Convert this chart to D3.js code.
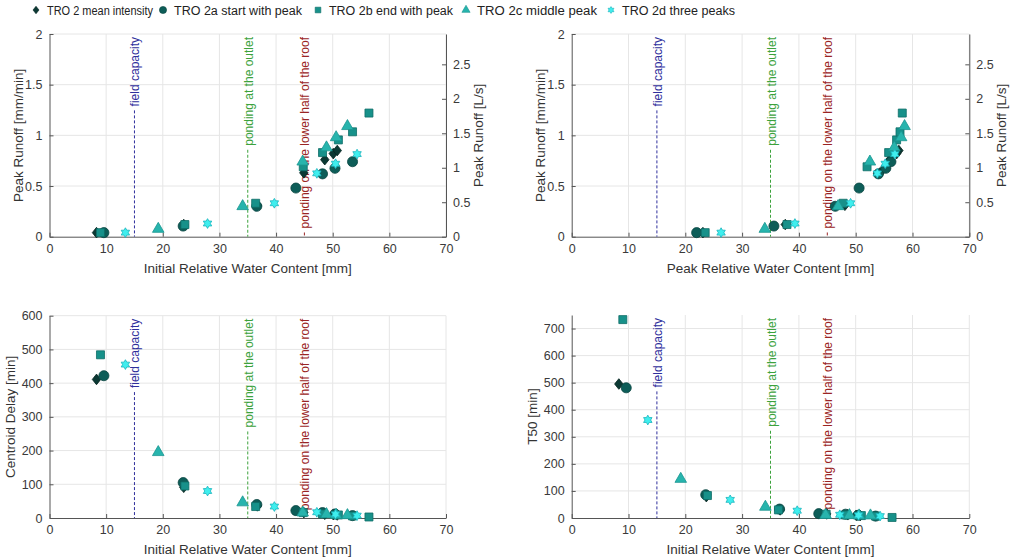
<!DOCTYPE html>
<html>
<head>
<meta charset="utf-8">
<script src="https://cdn.jsdelivr.net/npm/d3@7"></script>
<style>
  body { margin: 0; background: #fff; }
  text { font-family: "Liberation Sans", Arial, sans-serif; }
</style>
</head>
<body>
<svg id="chart" width="1013" height="558"></svg>
<script>
// series names
const seriesNames = ["TRO 2 mean intensity", "TRO 2a start with peak", "TRO 2b end with peak",
  "TRO 2c middle peak", "TRO 2d three peaks"];

// TRO 2 mean intensity
const meanInit = [8.3, 23.7, 36.7, 44.9, 48.6, 50.1, 50.8];
const meanPeakWC = [23.1, 37.6, 48.1, 54.3, 56.0, 57.2, 57.6];
const meanRunoff = [0.04, 0.12, 0.31, 0.63, 0.76, 0.82, 0.85];
const meanCentroid = [411, 91, 36, 16, 11, 10, 9];
const meanT50 = [495, 79, 30, 15, 12, 10, 9];

// TRO 2a start with peak
const startInit = [9.6, 23.6, 36.6, 43.5, 48.2, 50.4, 53.5];
const startPeakWC = [22.0, 35.6, 46.4, 50.6, 54.0, 55.3, 56.2];
const startRunoff = [0.04, 0.105, 0.30, 0.48, 0.62, 0.675, 0.74];
const startCentroid = [422, 105, 40, 22, 16, 12, 7];
const startT50 = [481, 86, 33, 16, 14, 10, 7];

// TRO 2b end with peak
const endInit = [9.0, 23.9, 36.4, 44.8, 48.2, 51.0, 53.5, 56.4];
const endPeakWC = [23.5, 37.9, 47.8, 52.0, 55.8, 57.2, 57.8, 58.2];
const endRunoff = [0.04, 0.12, 0.33, 0.69, 0.83, 0.955, 1.035, 1.22];
const endCentroid = [484, 95, 34, 16, 12, 9, 6, 3];
const endT50 = [733, 83, 30, 14, 11, 9, 7, 2];

// TRO 2c middle peak
const midInit = [19.2, 34.1, 44.7, 48.9, 50.6, 52.6];
const midPeakWC = [34.0, 46.9, 52.5, 56.8, 58.0, 58.6];
const midRunoff = [0.076, 0.30, 0.74, 0.88, 0.98, 1.09];
const midCentroid = [195, 46, 16, 11, 9, 8];
const midT50 = [144, 41, 11, 10, 9, 9];

// TRO 2d three peaks
const threeInit = [13.4, 27.9, 39.7, 47.2, 50.5, 54.3];
const threePeakWC = [26.3, 39.3, 49.1, 53.8, 55.2, 56.9];
const threeRunoff = [0.04, 0.13, 0.33, 0.625, 0.72, 0.815];
const threeCentroid = [455, 80, 34, 17, 11, 7];
const threeT50 = [362, 67, 27, 12, 10, 7];

// reference lines
const refValues = [15, 35, 45];
const refLabels = ["field capacity", "ponding at the outlet", "ponding on the lower half of the roof"];
const refColors = ["#2f2f9c", "#3ca23c", "#9a2424"];

const xTicks = [0, 10, 20, 30, 40, 50, 60, 70];
const runoffTicks = [0, 0.5, 1, 1.5, 2];
const litreTicks = [0, 0.5, 1, 1.5, 2, 2.5];
const centroidTicks = [0, 100, 200, 300, 400, 500, 600];
const t50Ticks = [0, 100, 200, 300, 400, 500, 600, 700];
const mmToLitres = 1.47;

const fills = ["#0b3934", "#0d5d58", "#17918a", "#27b4ad", "#3feeee"];
const strokes = ["#052420", "#084440", "#0f6d67", "#1a9690", "#19b4bc"];

// 6-point star, not in d3
const symbolHexagram = {
  draw(ctx, size) {
    const r = Math.sqrt(size / 1.6);
    const ri = r / Math.sqrt(3);
    for (let i = 0; i < 12; i++) {
      const a = Math.PI / 6 * i - Math.PI / 2;
      const rr = i % 2 === 0 ? r : ri;
      if (i === 0) ctx.moveTo(rr * Math.cos(a), rr * Math.sin(a));
      else ctx.lineTo(rr * Math.cos(a), rr * Math.sin(a));
    }
    ctx.closePath();
  }
};
const symbolRhombus = {
  draw(ctx, size) {
    const h = Math.sqrt(size / 0.8);
    const w = h * 0.8;
    ctx.moveTo(0, -h / 2);
    ctx.lineTo(w / 2, 0);
    ctx.lineTo(0, h / 2);
    ctx.lineTo(-w / 2, 0);
    ctx.closePath();
  }
};
const shapes = [symbolRhombus, d3.symbolCircle, d3.symbolSquare, d3.symbolTriangle, symbolHexagram];
const sizes = [90, 80, 64, 58, 38];

const series = [
  {init: meanInit, peak: meanPeakWC, runoff: meanRunoff, cd: meanCentroid, t50: meanT50},
  {init: startInit, peak: startPeakWC, runoff: startRunoff, cd: startCentroid, t50: startT50},
  {init: endInit, peak: endPeakWC, runoff: endRunoff, cd: endCentroid, t50: endT50},
  {init: midInit, peak: midPeakWC, runoff: midRunoff, cd: midCentroid, t50: midT50},
  {init: threeInit, peak: threePeakWC, runoff: threeRunoff, cd: threeCentroid, t50: threeT50},
];

const svg = d3.select('#chart');

function drawPanel(p) {
  let x = d3.scaleLinear().domain([0, 70]).range([p.left, p.right]);
  let y = d3.scaleLinear().domain([0, p.yMax]).range([p.bottom, p.top]);
  let g = svg.append('g');

  // grid
  g.selectAll('.gx').data(xTicks.slice(1)).enter().append('line')
    .attr('x1', d => x(d)).attr('x2', d => x(d))
    .attr('y1', p.top).attr('y2', p.bottom)
    .attr('stroke', '#e6e6e6');
  g.selectAll('.gy').data(p.yTicks.slice(1)).enter().append('line')
    .attr('x1', p.left).attr('x2', p.right)
    .attr('y1', d => y(d)).attr('y2', d => y(d))
    .attr('stroke', '#e6e6e6');

  // axes
  let xAxis = g.append('g').attr('transform', `translate(0,${p.bottom})`)
    .call(d3.axisBottom(x).tickValues(xTicks).tickSizeInner(-4).tickSizeOuter(0).tickPadding(7));
  let yAxis = g.append('g').attr('transform', `translate(${p.left},0)`)
    .call(d3.axisLeft(y).tickValues(p.yTicks).tickSizeInner(-4).tickSizeOuter(0).tickPadding(7)
      .tickFormat(d3.format('~g')));
  let axes = [xAxis, yAxis];
  if (p.right2) {
    let y2 = d3.scaleLinear().domain([0, p.yMax * mmToLitres]).range([p.bottom, p.top]);
    axes.push(g.append('g').attr('transform', `translate(${p.right},0)`)
      .call(d3.axisRight(y2).tickValues(litreTicks).tickSizeInner(-4).tickSizeOuter(0).tickPadding(7)
        .tickFormat(d3.format('~g'))));
    g.append('text')
      .attr('transform', `translate(${p.right + 37},${(p.top + p.bottom) / 2}) rotate(-90)`)
      .attr('text-anchor', 'middle')
      .attr('font-size', 13.5)
      .attr('fill', '#333')
      .text(p.right2);
  }
  for (let a of axes) {
    a.selectAll('path, line').attr('stroke', '#555');
    a.selectAll('text').attr('font-size', 12.5).attr('fill', '#3a3a3a')
      .attr('font-family', '"Liberation Sans", Arial, sans-serif');
  }

  // axis labels
  g.append('text')
    .attr('x', (p.left + p.right) / 2)
    .attr('y', p.bottom + 36)
    .attr('text-anchor', 'middle')
    .attr('font-size', 13.5)
    .attr('fill', '#333')
    .text(p.xLabel);
  g.append('text')
    .attr('transform', `translate(${p.left - p.yLabelGap},${(p.top + p.bottom) / 2}) rotate(-90)`)
    .attr('text-anchor', 'middle')
    .attr('font-size', 13.5)
    .attr('fill', '#333')
    .text(p.yLabel);

  // reference lines with labels on top
  refValues.forEach((v, i) => {
    let t = g.append('text')
      .attr('transform', `translate(${x(v) + 5},${p.top + 3}) rotate(-90)`)
      .attr('text-anchor', 'end')
      .attr('font-size', 12)
      .attr('fill', refColors[i])
      .text(refLabels[i]);
    let len = t.node().getComputedTextLength();
    let yStart = p.top + 3 + len + 4;
    if (yStart < p.bottom) {
      g.append('line')
        .attr('x1', x(v)).attr('x2', x(v))
        .attr('y1', yStart).attr('y2', p.bottom)
        .attr('stroke', refColors[i])
        .attr('stroke-width', 1)
        .attr('stroke-dasharray', '3,2');
    }
  });

  // points
  series.forEach((s, i) => {
    let xs = s[p.xKey];
    let ys = s[p.yKey];
    g.selectAll(null).data(xs.map((d, j) => [d, ys[j]])).enter().append('path')
      .attr('d', d3.symbol().type(shapes[i]).size(sizes[i]))
      .attr('transform', d => `translate(${x(d[0])},${y(d[1])})`)
      .attr('fill', fills[i])
      .attr('stroke', strokes[i])
      .attr('stroke-width', 0.8);
  });
}

const panels = [
  {left: 49.5, right: 446, top: 34, bottom: 236.7, yMax: 2, yTicks: runoffTicks,
    xKey: 'init', yKey: 'runoff', xLabel: 'Initial Relative Water Content [mm]',
    yLabel: 'Peak Runoff [mm/min]', right2: 'Peak Runoff [L/s]', yLabelGap: 27},
  {left: 571.7, right: 969.3, top: 34, bottom: 236.7, yMax: 2, yTicks: runoffTicks,
    xKey: 'peak', yKey: 'runoff', xLabel: 'Peak Relative Water Content [mm]',
    yLabel: 'Peak Runoff [mm/min]', right2: 'Peak Runoff [L/s]', yLabelGap: 27},
  {left: 49.5, right: 446, top: 315.7, bottom: 518, yMax: 600, yTicks: centroidTicks,
    xKey: 'init', yKey: 'cd', xLabel: 'Initial Relative Water Content [mm]',
    yLabel: 'Centroid Delay [min]', yLabelGap: 35},
  {left: 571.7, right: 969.3, top: 315, bottom: 518, yMax: 750, yTicks: t50Ticks,
    xKey: 'init', yKey: 't50', xLabel: 'Initial Relative Water Content [mm]',
    yLabel: 'T50 [min]', yLabelGap: 35},
];
panels.forEach(drawPanel);

// legend
const legendX = [36, 163, 318, 466, 611];
const legendWidths = [106, 128, 124, 120, 113];
let legend = svg.append('g');
seriesNames.forEach((name, i) => {
  legend.append('path')
    .attr('d', d3.symbol().type(shapes[i]).size(sizes[i] * 0.5))
    .attr('transform', `translate(${legendX[i]},10)`)
    .attr('fill', fills[i])
    .attr('stroke', strokes[i])
    .attr('stroke-width', 0.6);
  legend.append('text')
    .attr('x', legendX[i] + 11)
    .attr('y', 14.5)
    .attr('font-size', 12.5)
    .attr('fill', '#222')
    .attr('textLength', legendWidths[i])
    .attr('lengthAdjust', 'spacingAndGlyphs')
    .text(name);
});
</script>
</body>
</html>
